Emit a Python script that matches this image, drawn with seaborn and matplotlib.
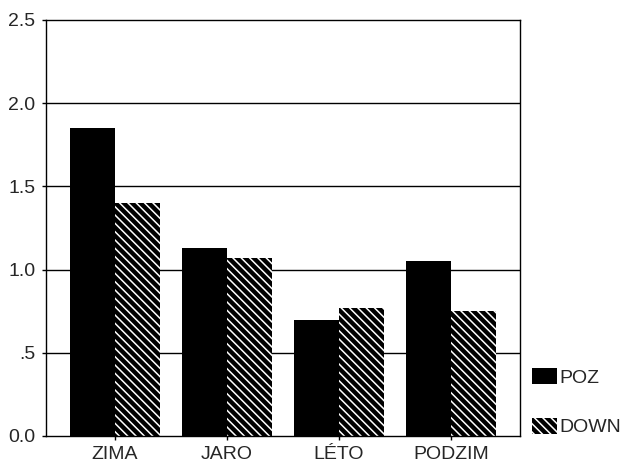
import matplotlib
matplotlib.use("Agg")
import matplotlib.pyplot as plt
import seaborn as sns
import pandas as pd
from matplotlib.patches import Patch

seasons = ["ZIMA", "JARO", "LÉTO", "PODZIM"]
poz = [1.85, 1.13, 0.70, 1.05]
down = [1.40, 1.07, 0.77, 0.75]
series_names = ["POZ", "DOWN"]
yticks = [0.0, 0.5, 1.0, 1.5, 2.0, 2.5]
ytick_labels = ["0.0", ".5", "1.0", "1.5", "2.0", "2.5"]

df = pd.DataFrame({
    "season": seasons * 2,
    "value": poz + down,
    "series": [series_names[0]] * len(seasons) + [series_names[1]] * len(seasons),
})

sns.set_style("white")
plt.rcParams["font.family"] = ["Liberation Sans", "DejaVu Sans"]
plt.rcParams["hatch.linewidth"] = 1.1

fig = plt.figure(figsize=(6.33, 4.63), dpi=100)
ax = fig.add_axes([46 / 633, 1 - 436 / 463, (520 - 46) / 633, (436 - 20) / 463])

sns.barplot(data=df, x="season", y="value", hue="series",
            palette=["black", "black"], width=0.8, gap=0,
            saturation=1, legend=False, ax=ax, zorder=2)

for bar in ax.containers[0]:
    bar.set_linewidth(0)
for bar in ax.containers[1]:
    bar.set_hatch("\\\\\\\\")
    bar.set_edgecolor("white")
    bar.set_linewidth(0)

ax.set_ylim(0, 2.5)
ax.set_xlim(-0.616, 3.616)
ax.set_yticks(yticks)
ax.set_yticklabels(ytick_labels)
for y in yticks[1:-1]:
    ax.axhline(y, color="black", lw=1.0, zorder=1)

ax.set_xlabel("")
ax.set_ylabel("")
for s in ax.spines.values():
    s.set_color("black")
    s.set_linewidth(1.0)
    s.set_visible(True)
ax.tick_params(axis="both", which="major", length=3, width=1, color="black",
               labelsize=14, direction="out", bottom=True, left=True)
ax.tick_params(axis="x", pad=4.5)
ax.tick_params(axis="y", pad=4.5)

handles = [Patch(facecolor="black", edgecolor="black", lw=0),
           Patch(facecolor="black", edgecolor="white", lw=0, hatch="\\\\\\\\")]
fig.legend(handles, series_names, loc="upper left",
           bbox_to_anchor=(524 / 633, 1 - 360 / 463), frameon=False,
           fontsize=14, handlelength=1.3, handleheight=0.9,
           handletextpad=0.1, labelspacing=1.6, borderaxespad=0)

fig.savefig("out.png", dpi=100)
